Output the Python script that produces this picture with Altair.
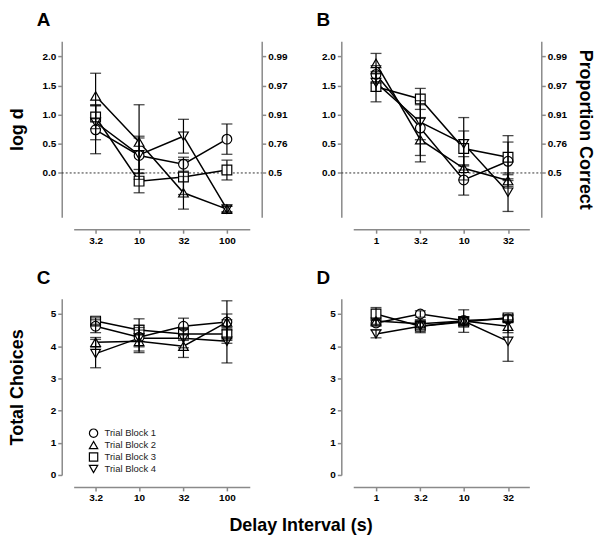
import altair as alt
import pandas as pd

BLOCKS = ["Trial Block 1", "Trial Block 2", "Trial Block 3", "Trial Block 4"]
SHAPES = ["circle", "triangle-up", "square", "triangle-down"]

# Panel A (log d, delays 3.2-100 s)
A_x = [3.2, 10, 32, 100]
A_b1 = [0.74, 0.30, 0.15, 0.58]
A_b2 = [1.32, 0.53, -0.34, -0.62]
A_b3 = [0.96, -0.14, -0.07, 0.05]
A_b4 = [0.87, 0.31, 0.63, -0.62]
A_e1 = [0.41, 0.30, 0.12, 0.26]
A_e2 = [0.39, 0.64, 0.28, 0.05]
A_e3 = [0.20, 0.20, 0.30, 0.17]
A_e4 = [0.30, 0.32, 0.29, 0.05]

# Panel B (log d, delays 1-32 s)
B_x = [1, 3.2, 10, 32]
B_b1 = [1.69, 0.77, -0.12, 0.20]
B_b2 = [1.88, 0.57, 0.08, -0.13]
B_b3 = [1.48, 1.27, 0.42, 0.27]
B_b4 = [1.55, 0.87, 0.50, -0.33]
B_e1 = [0.15, 0.47, 0.26, 0.33]
B_e2 = [0.17, 0.38, 0.20, 0.10]
B_e3 = [0.26, 0.18, 0.30, 0.37]
B_e4 = [0.15, 0.30, 0.45, 0.33]

# Panel C (total choices, delays 3.2-100 s)
C_x = [3.2, 10, 32, 100]
C_b1 = [4.62, 4.28, 4.62, 4.75]
C_b2 = [4.12, 4.15, 4.00, 4.75]
C_b3 = [4.78, 4.50, 4.38, 4.38]
C_b4 = [3.77, 4.25, 4.25, 4.15]
C_e1 = [0.20, 0.30, 0.25, 0.25]
C_e2 = [0.15, 0.35, 0.35, 0.66]
C_e3 = [0.10, 0.35, 0.20, 0.20]
C_e4 = [0.44, 0.40, 0.30, 0.67]

# Panel D (total choices, delays 1-32 s)
D_x = [1, 3.2, 10, 32]
D_b1 = [4.72, 5.00, 4.80, 4.85]
D_b2 = [4.78, 4.70, 4.78, 4.62]
D_b3 = [5.00, 4.62, 4.75, 4.88]
D_b4 = [4.38, 4.62, 4.78, 4.15]
D_e1 = [0.10, 0.10, 0.10, 0.10]
D_e2 = [0.10, 0.10, 0.10, 0.20]
D_e3 = [0.20, 0.10, 0.10, 0.10]
D_e4 = [0.12, 0.20, 0.35, 0.62]

LOGD_TICKS = [0.0, 0.5, 1.0, 1.5, 2.0]
PROP_LABELS = ["0.5", "0.76", "0.91", "0.97", "0.99"]
CHOICE_TICKS = [0, 1, 2, 3, 4, 5]

FONT = "Liberation Sans"
W = 177
H = 177
AXIS_GRAY = "#8a8a8a"
MSIZE = 95


def make_df(xs, vals, errs):
    rows = []
    for b, v, e in zip(BLOCKS, vals, errs):
        for x, yv, ev in zip(xs, v, e):
            rows.append({"delay": x, "block": b, "value": yv,
                         "lo": yv - ev, "hi": yv + ev})
    return pd.DataFrame(rows)


prop_expr = " : ".join(
    f"datum.value == {t} ? '{lab}'" for t, lab in zip(LOGD_TICKS, PROP_LABELS)
) + " : ''"


def panel(xs, vals, errs, xdom, ydom, yticks, yfmt, letter, left_title,
          right_axis, right_title, show_legend):
    df = make_df(xs, vals, errs)
    xenc = alt.X("delay:Q",
                 scale=alt.Scale(type="log", domain=xdom, nice=False),
                 axis=alt.Axis(values=xs, format="~g", title=None, offset=12,
                               labelFlush=False))
    yscale = alt.Scale(domain=ydom, nice=False, zero=False)
    yaxis = alt.Axis(values=yticks, format=yfmt, offset=12, minExtent=26,
                     maxExtent=26, titlePadding=9, titleFontSize=18,
                     titleFontWeight="bold", titleFont=FONT,
                     labelOverlap=False,
                     title=left_title if left_title else None)
    yenc = alt.Y("value:Q", scale=yscale, axis=yaxis)

    base = alt.Chart(df)
    lines = base.mark_line(color="black", strokeWidth=1.5).encode(
        x=xenc, y=yenc, detail="block:N")
    # white fill behind each open marker
    fills = [
        base.transform_filter(alt.datum.block == b).mark_point(
            shape=s, filled=True, color="white", size=MSIZE, opacity=1
        ).encode(x=xenc, y=yenc)
        for b, s in zip(BLOCKS, SHAPES)
    ]
    if show_legend:
        leg = alt.Legend(
            title=None, orient="none", legendX=15, legendY=130,
            labelFont=FONT, labelFontSize=9.5, labelColor="#222",
            symbolSize=70, rowPadding=-2, labelOffset=6, padding=0,
            symbolStrokeWidth=1.2, symbolStrokeColor="black",
            symbolOpacity=1)
    else:
        leg = None
    points = base.mark_point(filled=False, color="black",
                             strokeWidth=1.2, size=MSIZE, opacity=1).encode(
        x=xenc, y=yenc,
        shape=alt.Shape("block:N", scale=alt.Scale(domain=BLOCKS, range=SHAPES),
                        legend=leg))
    rules = base.mark_rule(color="black", strokeWidth=1.2).encode(
        x=xenc, y=alt.Y("lo:Q", scale=yscale, axis=yaxis), y2="hi:Q")
    caps = base.transform_fold(["lo", "hi"], as_=["k", "cap"]).mark_tick(
        orient="horizontal", size=11, thickness=1.3, color="black").encode(
        x=xenc, y=alt.Y("cap:Q", scale=yscale, axis=yaxis))
    inner = alt.layer(lines, *fills, points, rules, caps)

    if right_axis:
        ref = alt.Chart(pd.DataFrame({"y": [0.0]})).mark_rule(
            color="#333", strokeWidth=1, strokeDash=[2, 2]).encode(
            y=alt.Y("y:Q", scale=yscale,
                    axis=alt.Axis(orient="right", values=LOGD_TICKS,
                                  labelExpr=prop_expr, offset=12,
                                  title=right_title if right_title else None,
                                  titleFontSize=18, titleFontWeight="bold",
                                  titleFont=FONT, titlePadding=6,
                                  labelOverlap=False,
                                  minExtent=28, maxExtent=28)),
            x=alt.value(-12), x2=alt.value(W + 12))
        chart = alt.layer(ref, inner).resolve_scale(y="independent")
    else:
        chart = inner
    return chart.properties(
        width=W, height=H,
        title=alt.TitleParams(letter, anchor="start", frame="group", dx=-37,
                              offset=11, fontSize=19, fontWeight="bold",
                              font=FONT, color="black"))


pA = panel(A_x, [A_b1, A_b2, A_b3, A_b4], [A_e1, A_e2, A_e3, A_e4],
           [1.8, 182], [-0.76, 2.26], LOGD_TICKS, ".1f", "A", "log d",
           True, None, False)
pB = panel(B_x, [B_b1, B_b2, B_b3, B_b4], [B_e1, B_e2, B_e3, B_e4],
           [0.55, 56], [-0.76, 2.26], LOGD_TICKS, ".1f", "B", None,
           True, "Proportion Correct", False)
pC = panel(C_x, [C_b1, C_b2, C_b3, C_b4], [C_e1, C_e2, C_e3, C_e4],
           [1.8, 182], [0, 5.47], CHOICE_TICKS, "d", "C", "Total Choices",
           False, None, True)
pD = panel(D_x, [D_b1, D_b2, D_b3, D_b4], [D_e1, D_e2, D_e3, D_e4],
           [0.55, 56], [0, 5.47], CHOICE_TICKS, "d", "D", None,
           False, None, False)

top = alt.hconcat(pA, pB, spacing=26).resolve_scale(shape="independent")
bottom = alt.hconcat(pC, pD, spacing=66).resolve_scale(shape="independent")
chart = alt.vconcat(top, bottom, spacing=24).resolve_scale(
    shape="independent"
).properties(
    padding={"left": 1, "top": 2, "right": 3, "bottom": 0},
    title=alt.TitleParams("Delay Interval (s)", orient="bottom",
                          anchor="middle", fontSize=18, fontWeight="bold",
                          font=FONT, color="black", offset=14),
).configure_view(stroke=None).configure_axis(
    grid=False, domainColor=AXIS_GRAY, tickColor=AXIS_GRAY, domainWidth=1.5,
    tickWidth=1.5, tickSize=4, labelFont=FONT, labelFontSize=10,
    labelFontWeight="bold", labelColor="black", labelPadding=2,
    titleColor="black",
)

chart.save("out.html", embed_options={"renderer": "svg", "actions": False})
